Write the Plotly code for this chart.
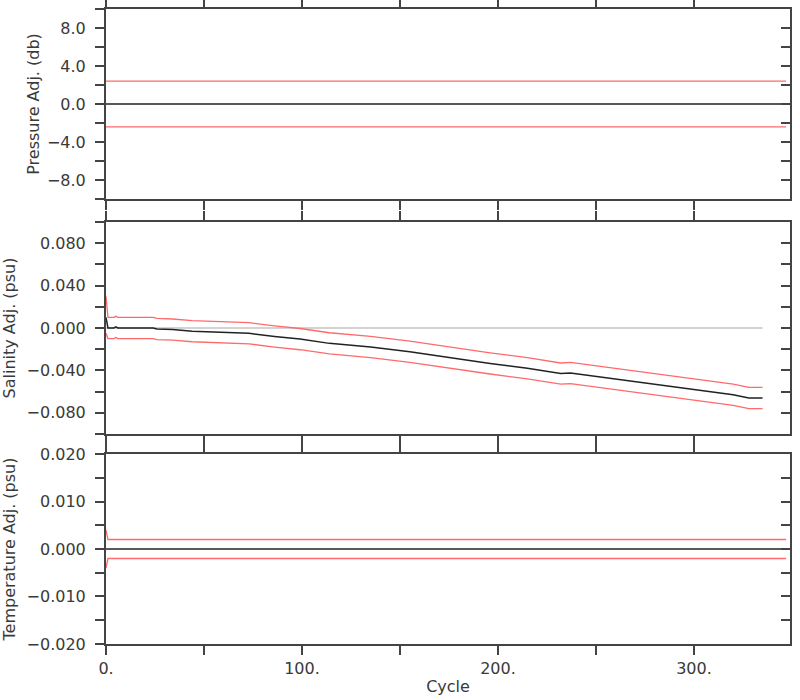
import plotly.graph_objects as go

# ---------------- data ----------------
pres_cycle = [0, 347]
pres_adj = [0.0, 0.0]
pres_upper = [2.4, 2.4]
pres_lower = [-2.4, -2.4]

sal_cycle = [0, 1, 4, 5, 6, 24, 26, 34, 44, 56, 73, 86, 99, 114, 135, 155, 175,
             196, 215, 232, 237, 255, 272, 290, 308, 320, 328, 335]
sal_adj = [0.010, 0.000, 0.000, 0.001, 0.000, 0.000, -0.001, -0.0015, -0.003, -0.004,
           -0.005, -0.008, -0.0105, -0.0145, -0.018, -0.0224, -0.028, -0.0334, -0.038,
           -0.043, -0.0425, -0.047, -0.051, -0.056, -0.0605, -0.063, -0.066, -0.066]
sal_upper = [0.030, 0.010, 0.010, 0.011, 0.010, 0.010, 0.009, 0.0085, 0.007, 0.006,
             0.005, 0.002, -0.0005, -0.0045, -0.008, -0.0124, -0.018, -0.0234, -0.028,
             -0.033, -0.0325, -0.037, -0.041, -0.046, -0.0505, -0.053, -0.056, -0.056]
sal_lower = [-0.005, -0.010, -0.010, -0.009, -0.010, -0.010, -0.011, -0.0115, -0.013, -0.014,
             -0.015, -0.018, -0.0205, -0.0245, -0.028, -0.0324, -0.038, -0.0434, -0.048,
             -0.053, -0.0525, -0.057, -0.061, -0.066, -0.0705, -0.073, -0.076, -0.076]
sal_ref_cycle = [0, 335]
sal_ref = [0.0, 0.0]

temp_cycle = [0, 1, 347]
temp_adj = [0.0, 0.0, 0.0]
temp_upper = [0.004, 0.002, 0.002]
temp_lower = [-0.004, -0.002, -0.002]

x_tickvals = [0, 50, 100, 150, 200, 250, 300]
x_ticktext = ["0.", "", "100.", "", "200.", "", "300."]

p_tickvals = [-10, -8, -6, -4, -2, 0, 2, 4, 6, 8, 10]
p_ticktext = ["", "\u22128.0", "", "\u22124.0", "", "0.0", "", "4.0", "", "8.0", ""]
s_tickvals = [-0.1, -0.08, -0.06, -0.04, -0.02, 0, 0.02, 0.04, 0.06, 0.08, 0.1]
s_ticktext = ["", "\u22120.080", "", "\u22120.040", "", "0.000", "", "0.040", "", "0.080", ""]
t_tickvals = [-0.02, -0.015, -0.01, -0.005, 0, 0.005, 0.01, 0.015, 0.02]
t_ticktext = ["\u22120.020", "", "\u22120.010", "", "0.000", "", "0.010", "", "0.020"]

# ---------------- figure ----------------
RED = "#ff6a6a"
BLK = "#222222"
GRY = "#c4c4c4"
AX = "#444444"
FONT = dict(family="DejaVu Sans", size=16, color="#3a3a3a")

fig = go.Figure()

def line(x, y, color, xa, ya, width=1.3):
    fig.add_trace(go.Scatter(x=x, y=y, mode="lines", line=dict(color=color, width=width),
                             xaxis=xa, yaxis=ya, showlegend=False, hoverinfo="skip"))

# panel 1 (top) : x / y
line(pres_cycle, pres_upper, RED, "x", "y")
line(pres_cycle, pres_lower, RED, "x", "y")
line(pres_cycle, pres_adj, BLK, "x", "y", 1.5)
# panel 2 : x2 / y2
line(sal_ref_cycle, sal_ref, GRY, "x2", "y2", 1.5)
line(sal_cycle, sal_upper, RED, "x2", "y2")
line(sal_cycle, sal_lower, RED, "x2", "y2")
line(sal_cycle, sal_adj, BLK, "x2", "y2", 1.5)
# panel 3 : x3 / y3
line(temp_cycle, temp_upper, RED, "x3", "y3")
line(temp_cycle, temp_lower, RED, "x3", "y3")
line(temp_cycle, temp_adj, BLK, "x3", "y3", 1.5)

# dummy traces for right-side inward tick axes
for xa, ya in (("x", "y4"), ("x2", "y5"), ("x3", "y6")):
    fig.add_trace(go.Scatter(x=[None], y=[None], xaxis=xa, yaxis=ya,
                             showlegend=False, hoverinfo="skip"))

domains = {1: [0.7008, 1.0], 2: [0.3307, 0.6646], 3: [0.0, 0.2992]}
ranges = {1: [-10, 10], 2: [-0.1, 0.1], 3: [-0.02, 0.02]}
tvals = {1: p_tickvals, 2: s_tickvals, 3: t_tickvals}
ttext = {1: p_ticktext, 2: s_ticktext, 3: t_ticktext}
titles = {1: "Pressure Adj. (db)", 2: "Salinity Adj. (psu)", 3: "Temperature Adj. (psu)"}
standoffs = {1: 3, 2: 10, 3: 10}

layout = dict(
    width=800, height=700,
    margin=dict(l=106, r=10, t=9, b=56, autoexpand=False),
    paper_bgcolor="white", plot_bgcolor="white",
    font=FONT, showlegend=False,
)

for i in (1, 2, 3):
    xs = "xaxis" if i == 1 else f"xaxis{i}"
    ys = "yaxis" if i == 1 else f"yaxis{i}"
    yref = "y" if i == 1 else f"y{i}"
    xref = "x" if i == 1 else f"x{i}"
    layout[xs] = dict(
        domain=[0, 1], anchor=yref, range=[0, 349], automargin=False,
        showline=True, linecolor=AX, linewidth=2, mirror="ticks",
        ticks="outside", ticklen=9, tickwidth=1.5, tickcolor=AX,
        tickvals=x_tickvals, ticktext=x_ticktext if i == 3 else [""] * len(x_tickvals),
        showticklabels=(i == 3), showgrid=False, zeroline=False,
        tickfont=FONT,
        title=dict(text="Cycle", font=FONT, standoff=4) if i == 3 else None,
    )
    layout[ys] = dict(
        domain=domains[i], anchor=xref, range=ranges[i], automargin=False,
        showline=True, linecolor=AX, linewidth=2, mirror=True,
        ticks="outside", ticklen=9, tickwidth=1.5, tickcolor=AX,
        tickvals=tvals[i], ticktext=ttext[i], showgrid=False, zeroline=False,
        tickfont=FONT, ticklabelstandoff=6,
        title=dict(text=titles[i], font=FONT, standoff=standoffs[i]),
    )
    # right-side inward ticks
    rs = f"yaxis{i + 3}"
    layout[rs] = dict(
        overlaying=yref, anchor=xref, side="right", range=ranges[i], automargin=False,
        showline=False, ticks="inside", ticklen=9, tickwidth=1.5, tickcolor=AX,
        tickvals=tvals[i], showticklabels=False, showgrid=False, zeroline=False,
    )

fig.update_layout(**layout)
fig.write_html("out.html", config={"displayModeBar": False},
               post_script="document.body.style.margin='0';")
